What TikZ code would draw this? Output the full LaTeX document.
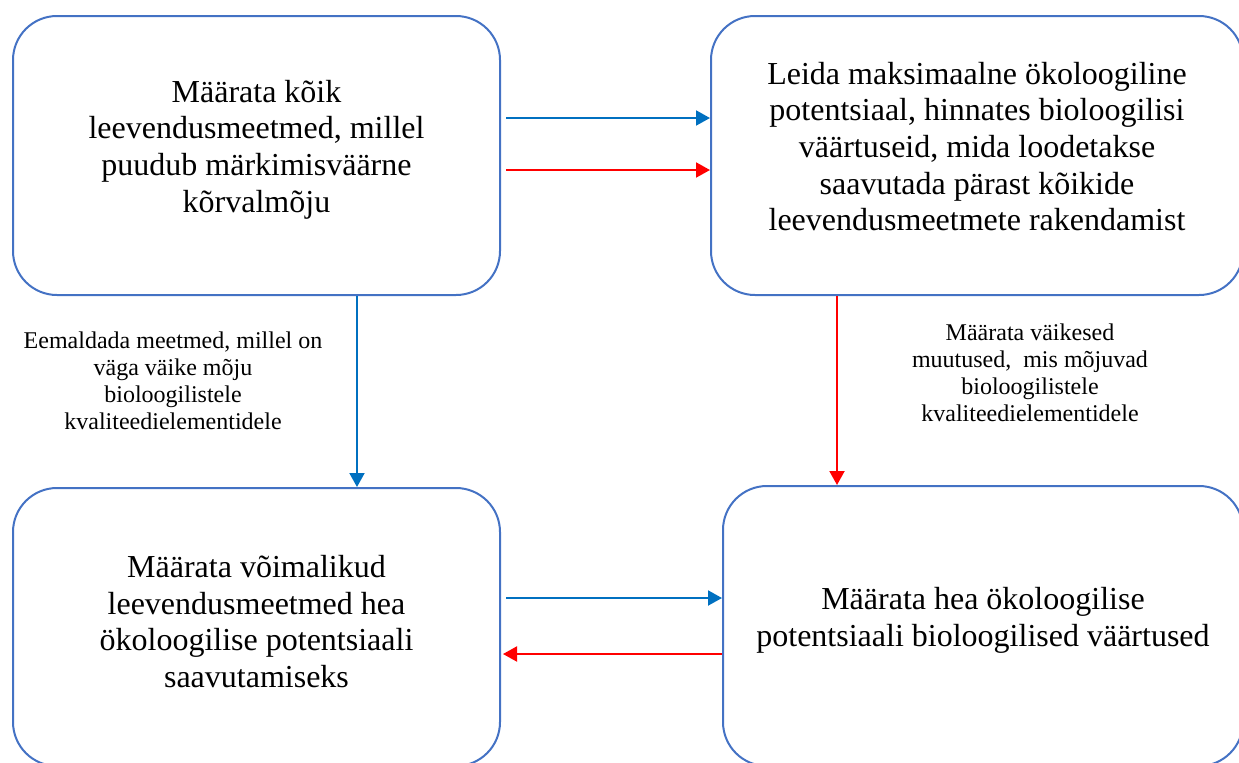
\documentclass[tikz,border=0pt]{standalone}
\usepackage{fontspec}
\setmainfont{Liberation Serif}
\usetikzlibrary{arrows.meta}
\definecolor{boxblue}{HTML}{4472C4}
\definecolor{arrowblue}{HTML}{0070C0}
\definecolor{arrowred}{HTML}{FF0000}

\begin{document}
\begin{tikzpicture}[x=0.5pt, y=-0.5pt,
    box/.style={draw=boxblue, line width=1pt, rounded corners=22pt, minimum width=243.5pt, minimum height=139.5pt},
    boxtext/.style={align=center, font=\fontsize{16}{18.3}\selectfont},
    note/.style={align=center, font=\fontsize{12}{13.5}\selectfont},
    bluearrow/.style={draw=arrowblue, line width=1pt, -{Triangle[length=7pt, width=7.5pt]}},
    redarrow/.style={draw=arrowred, line width=1pt, -{Triangle[length=7pt, width=7.5pt]}}
    ]
    \useasboundingbox (0,0) rectangle (1239,762);
    \node[box, label={[boxtext, yshift=3pt]center:Määrata kõik\\leevendusmeetmed, millel\\puudub märkimisväärne\\kõrvalmõju}] (koik) at (256.5,155.5) {};
    \node[box, minimum width=266pt, label={[boxtext, yshift=4.5pt]center:Leida maksimaalne ökoloogiline\\potentsiaal, hinnates bioloogilisi\\väärtuseid, mida loodetakse\\saavutada pärast kõikide\\leevendusmeetmete rakendamist}] (maks) at (977,155.5) {};
    \node[box, minimum height=139pt, label={[boxtext, yshift=2.75pt]center:Määrata võimalikud\\leevendusmeetmed hea\\ökoloogilise potentsiaali\\saavutamiseks}] (voimalik) at (256.5,627) {};
    \node[box, minimum width=260pt, minimum height=140pt, label={[boxtext, yshift=2.75pt]center:Määrata hea ökoloogilise\\potentsiaali bioloogilised väärtused}] (hea) at (983,626) {};
    \draw[bluearrow, shorten <=2.5pt] ([yshift=18.75pt]koik.east) -- ([yshift=18.75pt]koik.east -| maks.west);
    \draw[redarrow, shorten <=2.5pt] ([yshift=-7.25pt]koik.east) -- ([yshift=-7.25pt]koik.east -| maks.west);
    \draw[bluearrow] ([xshift=50.25pt]koik.south) -- ([xshift=50.25pt]koik.south |- voimalik.north);
    \draw[redarrow] ([xshift=-70pt]maks.south) -- ([xshift=-70pt]maks.south |- hea.north);
    \draw[bluearrow, shorten <=2.5pt] ([yshift=14.5pt]voimalik.east) -- ([yshift=14.5pt]voimalik.east -| hea.west);
    \draw[redarrow, shorten >=1pt] ([yshift=-14pt]hea.west) -- ([yshift=-14pt]hea.west -| voimalik.east);
    \node[note] (eemaldada) at (173,381) {Eemaldada meetmed, millel on\\väga väike mõju\\bioloogilistele\\kvaliteedielementidele};
    \node[note] (muutused) at (1030,373) {Määrata väikesed\\muutused,\ \ mis mõjuvad\\bioloogilistele\\kvaliteedielementidele};
\end{tikzpicture}
\end{document}
